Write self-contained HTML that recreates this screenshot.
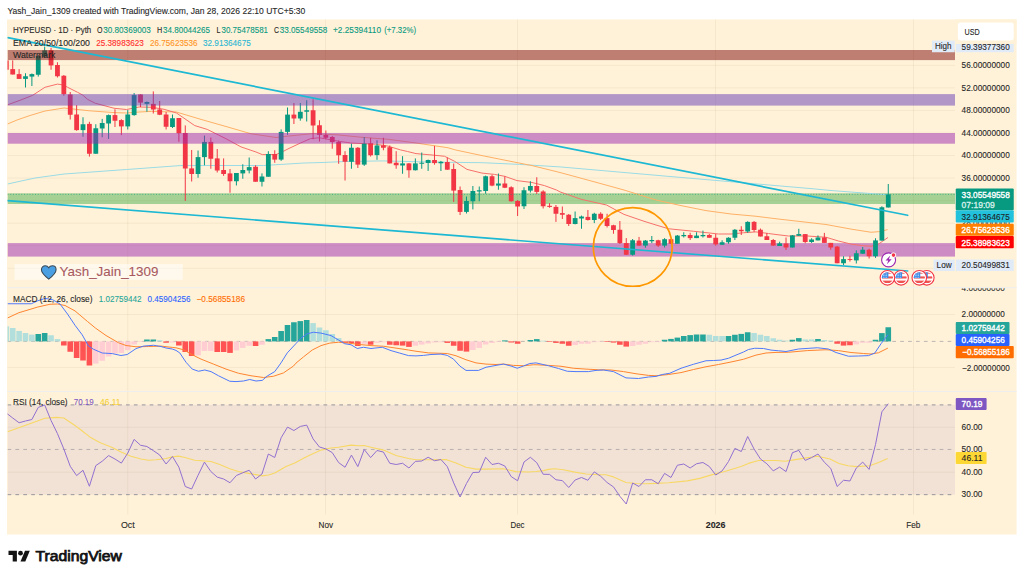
<!DOCTYPE html>
<html><head><meta charset="utf-8"><title>HYPEUSD chart</title>
<style>html,body{margin:0;padding:0;background:#fff;font-family:"Liberation Sans",sans-serif}svg{display:block}</style></head>
<body>
<svg width="1024" height="578" viewBox="0 0 1024 578" font-family="Liberation Sans, sans-serif">
<defs>
<clipPath id="p1"><rect x="7.50" y="19.40" width="947.50" height="268.10"/></clipPath>
<clipPath id="p2"><rect x="7.50" y="288.00" width="947.50" height="103.20"/></clipPath>
<clipPath id="p3"><rect x="7.50" y="391.70" width="947.50" height="122.80"/></clipPath>
<clipPath id="a1"><rect x="955" y="44" width="62" height="243.3"/></clipPath>
<clipPath id="a2"><rect x="955" y="288.3" width="62" height="103"/></clipPath>
<clipPath id="fl"><circle cx="0" cy="0" r="5.6"/></clipPath>
</defs>
<rect width="1024" height="578" fill="#ffffff"/>
<rect x="7.00" y="19.40" width="1009.60" height="515.10" fill="#fff2d8"/>
<line x1="127.75" y1="19.40" x2="127.75" y2="514.50" stroke="rgba(120,95,40,0.07)" stroke-width="1"/>
<line x1="325.50" y1="19.40" x2="325.50" y2="514.50" stroke="rgba(120,95,40,0.07)" stroke-width="1"/>
<line x1="517.50" y1="19.40" x2="517.50" y2="514.50" stroke="rgba(120,95,40,0.07)" stroke-width="1"/>
<line x1="715.50" y1="19.40" x2="715.50" y2="514.50" stroke="rgba(120,95,40,0.07)" stroke-width="1"/>
<line x1="913.50" y1="19.40" x2="913.50" y2="514.50" stroke="rgba(120,95,40,0.07)" stroke-width="1"/>
<line x1="7.50" y1="65.30" x2="955.00" y2="65.30" stroke="rgba(120,95,40,0.07)" stroke-width="1"/>
<line x1="7.50" y1="87.86" x2="955.00" y2="87.86" stroke="rgba(120,95,40,0.07)" stroke-width="1"/>
<line x1="7.50" y1="110.42" x2="955.00" y2="110.42" stroke="rgba(120,95,40,0.07)" stroke-width="1"/>
<line x1="7.50" y1="132.98" x2="955.00" y2="132.98" stroke="rgba(120,95,40,0.07)" stroke-width="1"/>
<line x1="7.50" y1="155.54" x2="955.00" y2="155.54" stroke="rgba(120,95,40,0.07)" stroke-width="1"/>
<line x1="7.50" y1="178.10" x2="955.00" y2="178.10" stroke="rgba(120,95,40,0.07)" stroke-width="1"/>
<line x1="7.50" y1="200.66" x2="955.00" y2="200.66" stroke="rgba(120,95,40,0.07)" stroke-width="1"/>
<line x1="7.50" y1="223.22" x2="955.00" y2="223.22" stroke="rgba(120,95,40,0.07)" stroke-width="1"/>
<line x1="7.50" y1="245.78" x2="955.00" y2="245.78" stroke="rgba(120,95,40,0.07)" stroke-width="1"/>
<line x1="7.50" y1="268.34" x2="955.00" y2="268.34" stroke="rgba(120,95,40,0.07)" stroke-width="1"/>
<line x1="7.50" y1="314.50" x2="955.00" y2="314.50" stroke="rgba(120,95,40,0.07)" stroke-width="1"/>
<line x1="7.50" y1="367.40" x2="955.00" y2="367.40" stroke="rgba(120,95,40,0.07)" stroke-width="1"/>
<line x1="7.50" y1="427.30" x2="955.00" y2="427.30" stroke="rgba(120,95,40,0.07)" stroke-width="1"/>
<line x1="7.50" y1="472.20" x2="955.00" y2="472.20" stroke="rgba(120,95,40,0.07)" stroke-width="1"/>
<g clip-path="url(#p1)">
<rect x="7.50" y="193.30" width="947.50" height="10.70" fill="rgba(76,175,80,0.5)"/>
<rect x="7.50" y="243.10" width="947.50" height="13.50" fill="rgba(156,39,176,0.5)"/>
<polyline points="7.50,184.00 35.00,178.00 64.00,174.00 126.50,169.50 180.00,165.60 220.00,165.50 263.50,165.50 304.00,163.00 320.00,162.60 345.00,161.50 382.50,160.90 420.00,161.80 448.00,162.30 482.00,162.70 519.50,164.40 560.00,166.90 662.00,175.80 812.00,188.70 832.00,190.60 882.00,194.40 888.00,194.80" fill="none" stroke="#9adbe5" stroke-width="1" stroke-linejoin="round"/>
<polyline points="7.50,124.00 17.00,120.00 30.00,115.50 45.00,111.00 64.00,108.00 89.00,110.75 114.00,112.60 126.50,113.00 139.00,112.00 151.50,111.40 164.00,111.75 176.00,111.90 201.00,119.40 226.00,126.50 251.00,133.75 276.00,137.50 288.00,136.10 313.00,133.60 338.00,134.90 363.00,137.40 388.00,139.25 416.00,143.00 448.00,147.75 455.75,150.00 482.00,155.60 507.00,160.60 532.00,165.60 560.00,172.50 592.00,181.20 624.00,190.00 644.00,196.25 656.00,200.00 681.00,205.60 706.00,210.60 731.00,214.00 756.00,216.25 776.00,218.75 801.00,221.60 826.00,224.50 851.00,229.10 871.00,232.25 879.75,231.60 887.60,229.60" fill="none" stroke="#ffb066" stroke-width="1" stroke-linejoin="round"/>
<polyline points="7.75,104.75 20.00,100.30 32.50,95.40 45.00,87.25 57.50,84.10 64.00,85.10 67.50,87.25 77.50,92.25 82.75,95.10 87.50,99.30 95.25,103.25 100.00,104.50 114.00,108.25 126.50,109.50 139.00,107.00 151.50,107.25 164.00,109.25 176.50,113.00 194.75,125.60 207.25,129.40 226.00,138.75 241.00,146.90 256.00,152.00 262.25,154.60 276.00,154.60 283.50,151.25 288.00,148.90 300.50,143.00 310.50,138.60 319.25,137.75 338.00,141.10 350.50,143.00 375.50,144.25 382.50,145.25 388.00,146.10 400.50,149.90 407.50,151.50 416.00,153.60 432.00,155.00 444.50,156.25 454.50,161.25 467.00,169.40 482.00,173.10 494.50,174.40 504.50,176.25 517.00,180.60 532.00,182.50 544.50,185.60 556.50,190.00 560.00,191.90 581.50,199.40 606.50,205.00 624.00,214.40 644.00,221.25 656.00,225.00 668.50,228.75 693.50,231.25 718.50,234.00 731.00,234.00 743.50,232.75 756.00,231.90 768.50,233.50 776.00,234.50 788.50,236.00 807.25,236.00 826.00,237.25 838.50,241.00 851.00,244.10 863.50,245.75 871.00,246.25 878.50,244.10 887.90,237.50" fill="none" stroke="#f7706b" stroke-width="1" stroke-linejoin="round"/>
<line x1="6.32" y1="58.00" x2="6.32" y2="71.00" stroke="#f23645" stroke-width="1"/>
<rect x="3.92" y="60.40" width="4.80" height="9.35" fill="#f23645"/>
<line x1="12.71" y1="60.40" x2="12.71" y2="74.50" stroke="#f23645" stroke-width="1"/>
<rect x="10.31" y="69.10" width="4.80" height="5.40" fill="#f23645"/>
<line x1="19.10" y1="69.10" x2="19.10" y2="78.90" stroke="#f23645" stroke-width="1"/>
<rect x="16.70" y="74.10" width="4.80" height="4.80" fill="#f23645"/>
<line x1="25.49" y1="73.25" x2="25.49" y2="87.50" stroke="#089981" stroke-width="1"/>
<rect x="23.09" y="76.25" width="4.80" height="2.65" fill="#089981"/>
<line x1="31.89" y1="73.50" x2="31.89" y2="86.00" stroke="#089981" stroke-width="1"/>
<rect x="29.49" y="74.10" width="4.80" height="2.50" fill="#089981"/>
<line x1="38.28" y1="55.00" x2="38.28" y2="76.60" stroke="#089981" stroke-width="1"/>
<rect x="35.88" y="56.00" width="4.80" height="18.75" fill="#089981"/>
<line x1="44.67" y1="46.60" x2="44.67" y2="56.60" stroke="#089981" stroke-width="1"/>
<rect x="42.27" y="50.40" width="4.80" height="6.20" fill="#089981"/>
<line x1="51.06" y1="47.90" x2="51.06" y2="69.75" stroke="#f23645" stroke-width="1"/>
<rect x="48.66" y="50.40" width="4.80" height="15.00" fill="#f23645"/>
<line x1="57.45" y1="62.25" x2="57.45" y2="77.50" stroke="#f23645" stroke-width="1"/>
<rect x="55.05" y="65.00" width="4.80" height="11.25" fill="#f23645"/>
<line x1="63.84" y1="75.00" x2="63.84" y2="95.75" stroke="#f23645" stroke-width="1"/>
<rect x="61.44" y="75.75" width="4.80" height="18.45" fill="#f23645"/>
<line x1="70.23" y1="92.00" x2="70.23" y2="119.50" stroke="#f23645" stroke-width="1"/>
<rect x="67.83" y="94.50" width="4.80" height="20.25" fill="#f23645"/>
<line x1="76.62" y1="105.10" x2="76.62" y2="130.75" stroke="#f23645" stroke-width="1"/>
<rect x="74.22" y="114.50" width="4.80" height="15.60" fill="#f23645"/>
<line x1="83.01" y1="117.25" x2="83.01" y2="136.75" stroke="#089981" stroke-width="1"/>
<rect x="80.61" y="124.25" width="4.80" height="5.85" fill="#089981"/>
<line x1="89.40" y1="121.75" x2="89.40" y2="156.60" stroke="#f23645" stroke-width="1"/>
<rect x="87.00" y="123.90" width="4.80" height="29.85" fill="#f23645"/>
<line x1="95.80" y1="124.25" x2="95.80" y2="153.75" stroke="#089981" stroke-width="1"/>
<rect x="93.39" y="128.25" width="4.80" height="25.50" fill="#089981"/>
<line x1="102.19" y1="118.90" x2="102.19" y2="137.25" stroke="#089981" stroke-width="1"/>
<rect x="99.79" y="123.00" width="4.80" height="5.50" fill="#089981"/>
<line x1="108.58" y1="114.50" x2="108.58" y2="138.90" stroke="#089981" stroke-width="1"/>
<rect x="106.18" y="115.10" width="4.80" height="8.40" fill="#089981"/>
<line x1="114.97" y1="109.25" x2="114.97" y2="127.00" stroke="#f23645" stroke-width="1"/>
<rect x="112.57" y="115.10" width="4.80" height="5.65" fill="#f23645"/>
<line x1="121.36" y1="119.25" x2="121.36" y2="135.10" stroke="#f23645" stroke-width="1"/>
<rect x="118.96" y="120.10" width="4.80" height="6.30" fill="#f23645"/>
<line x1="127.75" y1="110.10" x2="127.75" y2="129.50" stroke="#089981" stroke-width="1"/>
<rect x="125.35" y="114.50" width="4.80" height="11.90" fill="#089981"/>
<line x1="134.14" y1="93.00" x2="134.14" y2="115.75" stroke="#089981" stroke-width="1"/>
<rect x="131.74" y="95.10" width="4.80" height="20.00" fill="#089981"/>
<line x1="140.53" y1="94.25" x2="140.53" y2="107.00" stroke="#f23645" stroke-width="1"/>
<rect x="138.13" y="94.50" width="4.80" height="8.10" fill="#f23645"/>
<line x1="146.92" y1="101.40" x2="146.92" y2="111.75" stroke="#089981" stroke-width="1"/>
<rect x="144.52" y="102.00" width="4.80" height="1.90" fill="#089981"/>
<line x1="153.31" y1="91.40" x2="153.31" y2="113.50" stroke="#f23645" stroke-width="1"/>
<rect x="150.91" y="103.90" width="4.80" height="5.60" fill="#f23645"/>
<line x1="159.70" y1="101.00" x2="159.70" y2="115.10" stroke="#f23645" stroke-width="1"/>
<rect x="157.30" y="109.50" width="4.80" height="5.25" fill="#f23645"/>
<line x1="166.10" y1="112.00" x2="166.10" y2="129.50" stroke="#f23645" stroke-width="1"/>
<rect x="163.70" y="114.50" width="4.80" height="12.25" fill="#f23645"/>
<line x1="172.49" y1="114.50" x2="172.49" y2="128.00" stroke="#089981" stroke-width="1"/>
<rect x="170.09" y="118.25" width="4.80" height="8.75" fill="#089981"/>
<line x1="178.88" y1="118.00" x2="178.88" y2="141.75" stroke="#f23645" stroke-width="1"/>
<rect x="176.48" y="118.00" width="4.80" height="15.25" fill="#f23645"/>
<line x1="185.27" y1="125.40" x2="185.27" y2="200.90" stroke="#f23645" stroke-width="1"/>
<rect x="182.87" y="133.00" width="4.80" height="35.50" fill="#f23645"/>
<line x1="191.66" y1="150.00" x2="191.66" y2="181.50" stroke="#f23645" stroke-width="1"/>
<rect x="189.26" y="168.40" width="4.80" height="5.60" fill="#f23645"/>
<line x1="198.05" y1="150.50" x2="198.05" y2="177.75" stroke="#089981" stroke-width="1"/>
<rect x="195.65" y="157.10" width="4.80" height="16.90" fill="#089981"/>
<line x1="204.44" y1="135.60" x2="204.44" y2="165.25" stroke="#089981" stroke-width="1"/>
<rect x="202.04" y="141.90" width="4.80" height="15.20" fill="#089981"/>
<line x1="210.83" y1="137.50" x2="210.83" y2="168.75" stroke="#f23645" stroke-width="1"/>
<rect x="208.43" y="141.90" width="4.80" height="16.85" fill="#f23645"/>
<line x1="217.22" y1="149.00" x2="217.22" y2="172.50" stroke="#f23645" stroke-width="1"/>
<rect x="214.82" y="158.40" width="4.80" height="12.10" fill="#f23645"/>
<line x1="223.62" y1="158.40" x2="223.62" y2="175.90" stroke="#f23645" stroke-width="1"/>
<rect x="221.22" y="170.00" width="4.80" height="4.00" fill="#f23645"/>
<line x1="230.01" y1="169.00" x2="230.01" y2="192.75" stroke="#f23645" stroke-width="1"/>
<rect x="227.61" y="173.40" width="4.80" height="7.85" fill="#f23645"/>
<line x1="236.40" y1="173.00" x2="236.40" y2="185.50" stroke="#089981" stroke-width="1"/>
<rect x="234.00" y="173.00" width="4.80" height="8.25" fill="#089981"/>
<line x1="242.79" y1="164.25" x2="242.79" y2="178.75" stroke="#089981" stroke-width="1"/>
<rect x="240.39" y="170.00" width="4.80" height="3.40" fill="#089981"/>
<line x1="249.18" y1="157.50" x2="249.18" y2="173.40" stroke="#089981" stroke-width="1"/>
<rect x="246.78" y="167.10" width="4.80" height="3.40" fill="#089981"/>
<line x1="255.57" y1="165.25" x2="255.57" y2="181.75" stroke="#f23645" stroke-width="1"/>
<rect x="253.17" y="166.75" width="4.80" height="15.00" fill="#f23645"/>
<line x1="261.96" y1="173.40" x2="261.96" y2="186.50" stroke="#089981" stroke-width="1"/>
<rect x="259.56" y="176.50" width="4.80" height="5.25" fill="#089981"/>
<line x1="268.35" y1="151.25" x2="268.35" y2="176.75" stroke="#089981" stroke-width="1"/>
<rect x="265.95" y="154.00" width="4.80" height="22.75" fill="#089981"/>
<line x1="274.74" y1="150.25" x2="274.74" y2="162.75" stroke="#f23645" stroke-width="1"/>
<rect x="272.34" y="154.00" width="4.80" height="5.60" fill="#f23645"/>
<line x1="281.13" y1="129.40" x2="281.13" y2="160.90" stroke="#089981" stroke-width="1"/>
<rect x="278.73" y="131.90" width="4.80" height="27.70" fill="#089981"/>
<line x1="287.52" y1="107.50" x2="287.52" y2="134.75" stroke="#089981" stroke-width="1"/>
<rect x="285.12" y="114.60" width="4.80" height="17.30" fill="#089981"/>
<line x1="293.92" y1="103.00" x2="293.92" y2="124.00" stroke="#f23645" stroke-width="1"/>
<rect x="291.52" y="114.60" width="4.80" height="3.90" fill="#f23645"/>
<line x1="300.31" y1="103.00" x2="300.31" y2="120.70" stroke="#089981" stroke-width="1"/>
<rect x="297.91" y="111.80" width="4.80" height="6.70" fill="#089981"/>
<line x1="306.70" y1="100.25" x2="306.70" y2="121.50" stroke="#089981" stroke-width="1"/>
<rect x="304.30" y="110.25" width="4.80" height="1.50" fill="#089981"/>
<line x1="313.09" y1="99.25" x2="313.09" y2="139.25" stroke="#f23645" stroke-width="1"/>
<rect x="310.69" y="110.25" width="4.80" height="15.25" fill="#f23645"/>
<line x1="319.48" y1="120.25" x2="319.48" y2="141.50" stroke="#f23645" stroke-width="1"/>
<rect x="317.08" y="125.25" width="4.80" height="9.65" fill="#f23645"/>
<line x1="325.87" y1="130.50" x2="325.87" y2="139.25" stroke="#f23645" stroke-width="1"/>
<rect x="323.47" y="134.90" width="4.80" height="2.85" fill="#f23645"/>
<line x1="332.26" y1="136.00" x2="332.26" y2="148.70" stroke="#f23645" stroke-width="1"/>
<rect x="329.86" y="137.00" width="4.80" height="5.00" fill="#f23645"/>
<line x1="338.65" y1="140.50" x2="338.65" y2="163.75" stroke="#f23645" stroke-width="1"/>
<rect x="336.25" y="142.00" width="4.80" height="13.25" fill="#f23645"/>
<line x1="345.04" y1="151.20" x2="345.04" y2="180.50" stroke="#f23645" stroke-width="1"/>
<rect x="342.64" y="155.00" width="4.80" height="6.75" fill="#f23645"/>
<line x1="351.44" y1="143.60" x2="351.44" y2="168.75" stroke="#089981" stroke-width="1"/>
<rect x="349.04" y="147.75" width="4.80" height="14.00" fill="#089981"/>
<line x1="357.83" y1="147.00" x2="357.83" y2="168.00" stroke="#f23645" stroke-width="1"/>
<rect x="355.43" y="147.75" width="4.80" height="16.85" fill="#f23645"/>
<line x1="364.22" y1="137.00" x2="364.22" y2="165.90" stroke="#089981" stroke-width="1"/>
<rect x="361.82" y="143.60" width="4.80" height="21.00" fill="#089981"/>
<line x1="370.61" y1="137.75" x2="370.61" y2="156.50" stroke="#f23645" stroke-width="1"/>
<rect x="368.21" y="143.25" width="4.80" height="12.00" fill="#f23645"/>
<line x1="377.00" y1="140.25" x2="377.00" y2="159.80" stroke="#089981" stroke-width="1"/>
<rect x="374.60" y="145.50" width="4.80" height="9.60" fill="#089981"/>
<line x1="383.39" y1="137.75" x2="383.39" y2="150.25" stroke="#f23645" stroke-width="1"/>
<rect x="380.99" y="145.40" width="4.80" height="2.35" fill="#f23645"/>
<line x1="389.78" y1="145.40" x2="389.78" y2="163.40" stroke="#f23645" stroke-width="1"/>
<rect x="387.38" y="147.20" width="4.80" height="16.20" fill="#f23645"/>
<line x1="396.17" y1="151.20" x2="396.17" y2="168.75" stroke="#f23645" stroke-width="1"/>
<rect x="393.77" y="162.75" width="4.80" height="2.50" fill="#f23645"/>
<line x1="402.56" y1="156.20" x2="402.56" y2="173.75" stroke="#089981" stroke-width="1"/>
<rect x="400.16" y="163.40" width="4.80" height="2.10" fill="#089981"/>
<line x1="408.95" y1="163.00" x2="408.95" y2="177.75" stroke="#f23645" stroke-width="1"/>
<rect x="406.55" y="163.40" width="4.80" height="6.85" fill="#f23645"/>
<line x1="415.35" y1="158.40" x2="415.35" y2="170.50" stroke="#089981" stroke-width="1"/>
<rect x="412.95" y="163.40" width="4.80" height="6.85" fill="#089981"/>
<line x1="421.74" y1="152.50" x2="421.74" y2="168.75" stroke="#089981" stroke-width="1"/>
<rect x="419.34" y="162.75" width="4.80" height="1.00" fill="#089981"/>
<line x1="428.13" y1="159.60" x2="428.13" y2="170.90" stroke="#089981" stroke-width="1"/>
<rect x="425.73" y="160.00" width="4.80" height="3.00" fill="#089981"/>
<line x1="434.52" y1="145.90" x2="434.52" y2="164.70" stroke="#f23645" stroke-width="1"/>
<rect x="432.12" y="160.00" width="4.80" height="3.10" fill="#f23645"/>
<line x1="440.91" y1="160.90" x2="440.91" y2="171.00" stroke="#089981" stroke-width="1"/>
<rect x="438.51" y="161.80" width="4.80" height="1.50" fill="#089981"/>
<line x1="447.30" y1="157.50" x2="447.30" y2="170.00" stroke="#f23645" stroke-width="1"/>
<rect x="444.90" y="162.00" width="4.80" height="7.70" fill="#f23645"/>
<line x1="453.69" y1="163.50" x2="453.69" y2="201.90" stroke="#f23645" stroke-width="1"/>
<rect x="451.29" y="169.00" width="4.80" height="21.60" fill="#f23645"/>
<line x1="460.08" y1="186.50" x2="460.08" y2="215.00" stroke="#f23645" stroke-width="1"/>
<rect x="457.68" y="190.00" width="4.80" height="21.90" fill="#f23645"/>
<line x1="466.47" y1="196.50" x2="466.47" y2="213.50" stroke="#089981" stroke-width="1"/>
<rect x="464.07" y="201.00" width="4.80" height="10.90" fill="#089981"/>
<line x1="472.86" y1="186.00" x2="472.86" y2="209.40" stroke="#089981" stroke-width="1"/>
<rect x="470.46" y="191.00" width="4.80" height="10.25" fill="#089981"/>
<line x1="479.25" y1="186.50" x2="479.25" y2="201.25" stroke="#089981" stroke-width="1"/>
<rect x="476.86" y="190.25" width="4.80" height="1.25" fill="#089981"/>
<line x1="485.65" y1="175.60" x2="485.65" y2="193.75" stroke="#089981" stroke-width="1"/>
<rect x="483.25" y="176.25" width="4.80" height="14.75" fill="#089981"/>
<line x1="492.04" y1="174.75" x2="492.04" y2="186.25" stroke="#f23645" stroke-width="1"/>
<rect x="489.64" y="176.25" width="4.80" height="9.35" fill="#f23645"/>
<line x1="498.43" y1="173.50" x2="498.43" y2="189.75" stroke="#089981" stroke-width="1"/>
<rect x="496.03" y="183.50" width="4.80" height="2.10" fill="#089981"/>
<line x1="504.82" y1="176.25" x2="504.82" y2="188.10" stroke="#f23645" stroke-width="1"/>
<rect x="502.42" y="183.50" width="4.80" height="4.25" fill="#f23645"/>
<line x1="511.21" y1="186.25" x2="511.21" y2="201.60" stroke="#f23645" stroke-width="1"/>
<rect x="508.81" y="187.25" width="4.80" height="14.00" fill="#f23645"/>
<line x1="517.60" y1="200.00" x2="517.60" y2="216.00" stroke="#f23645" stroke-width="1"/>
<rect x="515.20" y="201.00" width="4.80" height="5.50" fill="#f23645"/>
<line x1="523.99" y1="187.25" x2="523.99" y2="209.00" stroke="#089981" stroke-width="1"/>
<rect x="521.59" y="190.25" width="4.80" height="16.00" fill="#089981"/>
<line x1="530.38" y1="181.25" x2="530.38" y2="192.50" stroke="#089981" stroke-width="1"/>
<rect x="527.98" y="186.00" width="4.80" height="4.60" fill="#089981"/>
<line x1="536.77" y1="177.25" x2="536.77" y2="194.00" stroke="#f23645" stroke-width="1"/>
<rect x="534.37" y="186.00" width="4.80" height="5.90" fill="#f23645"/>
<line x1="543.16" y1="190.25" x2="543.16" y2="208.50" stroke="#f23645" stroke-width="1"/>
<rect x="540.76" y="191.50" width="4.80" height="14.75" fill="#f23645"/>
<line x1="549.56" y1="203.10" x2="549.56" y2="207.75" stroke="#f23645" stroke-width="1"/>
<rect x="547.16" y="205.80" width="4.80" height="1.10" fill="#f23645"/>
<line x1="555.95" y1="205.00" x2="555.95" y2="221.90" stroke="#f23645" stroke-width="1"/>
<rect x="553.55" y="206.90" width="4.80" height="6.85" fill="#f23645"/>
<line x1="562.34" y1="206.50" x2="562.34" y2="219.00" stroke="#f23645" stroke-width="1"/>
<rect x="559.94" y="213.10" width="4.80" height="1.65" fill="#f23645"/>
<line x1="568.73" y1="214.00" x2="568.73" y2="226.00" stroke="#f23645" stroke-width="1"/>
<rect x="566.33" y="214.75" width="4.80" height="9.25" fill="#f23645"/>
<line x1="575.12" y1="211.50" x2="575.12" y2="224.40" stroke="#089981" stroke-width="1"/>
<rect x="572.72" y="218.10" width="4.80" height="5.90" fill="#089981"/>
<line x1="581.51" y1="215.60" x2="581.51" y2="228.75" stroke="#089981" stroke-width="1"/>
<rect x="579.11" y="216.50" width="4.80" height="2.00" fill="#089981"/>
<line x1="587.90" y1="210.00" x2="587.90" y2="220.60" stroke="#f23645" stroke-width="1"/>
<rect x="585.50" y="216.90" width="4.80" height="3.10" fill="#f23645"/>
<line x1="594.29" y1="212.75" x2="594.29" y2="223.10" stroke="#089981" stroke-width="1"/>
<rect x="591.89" y="213.75" width="4.80" height="6.25" fill="#089981"/>
<line x1="600.68" y1="212.25" x2="600.68" y2="220.00" stroke="#f23645" stroke-width="1"/>
<rect x="598.28" y="213.75" width="4.80" height="5.00" fill="#f23645"/>
<line x1="607.08" y1="213.75" x2="607.08" y2="227.50" stroke="#f23645" stroke-width="1"/>
<rect x="604.68" y="218.10" width="4.80" height="7.90" fill="#f23645"/>
<line x1="613.47" y1="224.75" x2="613.47" y2="233.75" stroke="#f23645" stroke-width="1"/>
<rect x="611.07" y="225.25" width="4.80" height="4.75" fill="#f23645"/>
<line x1="619.86" y1="221.00" x2="619.86" y2="244.00" stroke="#f23645" stroke-width="1"/>
<rect x="617.46" y="229.75" width="4.80" height="13.35" fill="#f23645"/>
<line x1="626.25" y1="238.10" x2="626.25" y2="255.00" stroke="#f23645" stroke-width="1"/>
<rect x="623.85" y="243.10" width="4.80" height="11.65" fill="#f23645"/>
<line x1="632.64" y1="239.00" x2="632.64" y2="255.60" stroke="#089981" stroke-width="1"/>
<rect x="630.24" y="240.25" width="4.80" height="14.50" fill="#089981"/>
<line x1="639.03" y1="236.90" x2="639.03" y2="246.00" stroke="#f23645" stroke-width="1"/>
<rect x="636.63" y="240.60" width="4.80" height="5.00" fill="#f23645"/>
<line x1="645.42" y1="240.00" x2="645.42" y2="247.75" stroke="#089981" stroke-width="1"/>
<rect x="643.02" y="240.60" width="4.80" height="5.00" fill="#089981"/>
<line x1="651.81" y1="236.00" x2="651.81" y2="243.10" stroke="#089981" stroke-width="1"/>
<rect x="649.41" y="240.00" width="4.80" height="1.25" fill="#089981"/>
<line x1="658.20" y1="239.75" x2="658.20" y2="246.90" stroke="#f23645" stroke-width="1"/>
<rect x="655.80" y="240.25" width="4.80" height="5.35" fill="#f23645"/>
<line x1="664.59" y1="238.10" x2="664.59" y2="247.50" stroke="#089981" stroke-width="1"/>
<rect x="662.19" y="239.20" width="4.80" height="6.40" fill="#089981"/>
<line x1="670.99" y1="238.50" x2="670.99" y2="244.00" stroke="#f23645" stroke-width="1"/>
<rect x="668.59" y="239.20" width="4.80" height="4.55" fill="#f23645"/>
<line x1="677.38" y1="235.00" x2="677.38" y2="243.75" stroke="#089981" stroke-width="1"/>
<rect x="674.98" y="235.60" width="4.80" height="8.15" fill="#089981"/>
<line x1="683.77" y1="232.25" x2="683.77" y2="237.50" stroke="#089981" stroke-width="1"/>
<rect x="681.37" y="235.00" width="4.80" height="1.25" fill="#089981"/>
<line x1="690.16" y1="232.75" x2="690.16" y2="240.00" stroke="#f23645" stroke-width="1"/>
<rect x="687.76" y="235.00" width="4.80" height="3.10" fill="#f23645"/>
<line x1="696.55" y1="232.25" x2="696.55" y2="238.10" stroke="#089981" stroke-width="1"/>
<rect x="694.15" y="235.60" width="4.80" height="2.50" fill="#089981"/>
<line x1="702.94" y1="230.60" x2="702.94" y2="237.50" stroke="#089981" stroke-width="1"/>
<rect x="700.54" y="235.00" width="4.80" height="1.25" fill="#089981"/>
<line x1="709.33" y1="234.00" x2="709.33" y2="237.75" stroke="#f23645" stroke-width="1"/>
<rect x="706.93" y="235.00" width="4.80" height="2.75" fill="#f23645"/>
<line x1="715.72" y1="234.00" x2="715.72" y2="245.60" stroke="#f23645" stroke-width="1"/>
<rect x="713.32" y="237.75" width="4.80" height="6.65" fill="#f23645"/>
<line x1="722.11" y1="240.25" x2="722.11" y2="244.75" stroke="#089981" stroke-width="1"/>
<rect x="719.71" y="242.25" width="4.80" height="2.50" fill="#089981"/>
<line x1="728.50" y1="237.25" x2="728.50" y2="243.75" stroke="#089981" stroke-width="1"/>
<rect x="726.10" y="237.75" width="4.80" height="4.50" fill="#089981"/>
<line x1="734.89" y1="229.00" x2="734.89" y2="240.00" stroke="#089981" stroke-width="1"/>
<rect x="732.50" y="229.75" width="4.80" height="8.00" fill="#089981"/>
<line x1="741.29" y1="226.25" x2="741.29" y2="235.00" stroke="#f23645" stroke-width="1"/>
<rect x="738.89" y="229.75" width="4.80" height="1.50" fill="#f23645"/>
<line x1="747.68" y1="221.25" x2="747.68" y2="232.75" stroke="#089981" stroke-width="1"/>
<rect x="745.28" y="221.90" width="4.80" height="9.60" fill="#089981"/>
<line x1="754.07" y1="221.00" x2="754.07" y2="231.90" stroke="#f23645" stroke-width="1"/>
<rect x="751.67" y="221.90" width="4.80" height="8.10" fill="#f23645"/>
<line x1="760.46" y1="228.50" x2="760.46" y2="236.50" stroke="#f23645" stroke-width="1"/>
<rect x="758.06" y="229.75" width="4.80" height="6.75" fill="#f23645"/>
<line x1="766.85" y1="233.10" x2="766.85" y2="240.00" stroke="#f23645" stroke-width="1"/>
<rect x="764.45" y="236.25" width="4.80" height="3.75" fill="#f23645"/>
<line x1="773.24" y1="239.00" x2="773.24" y2="245.60" stroke="#f23645" stroke-width="1"/>
<rect x="770.84" y="240.00" width="4.80" height="5.60" fill="#f23645"/>
<line x1="779.63" y1="241.70" x2="779.63" y2="246.00" stroke="#089981" stroke-width="1"/>
<rect x="777.23" y="243.40" width="4.80" height="2.60" fill="#089981"/>
<line x1="786.02" y1="237.50" x2="786.02" y2="250.00" stroke="#f23645" stroke-width="1"/>
<rect x="783.62" y="243.50" width="4.80" height="4.00" fill="#f23645"/>
<line x1="792.41" y1="235.00" x2="792.41" y2="247.50" stroke="#089981" stroke-width="1"/>
<rect x="790.01" y="235.40" width="4.80" height="12.10" fill="#089981"/>
<line x1="798.80" y1="228.75" x2="798.80" y2="235.75" stroke="#089981" stroke-width="1"/>
<rect x="796.40" y="234.10" width="4.80" height="1.65" fill="#089981"/>
<line x1="805.20" y1="234.10" x2="805.20" y2="243.25" stroke="#f23645" stroke-width="1"/>
<rect x="802.80" y="234.10" width="4.80" height="7.90" fill="#f23645"/>
<line x1="811.59" y1="238.25" x2="811.59" y2="242.90" stroke="#089981" stroke-width="1"/>
<rect x="809.19" y="239.50" width="4.80" height="2.50" fill="#089981"/>
<line x1="817.98" y1="235.40" x2="817.98" y2="240.40" stroke="#089981" stroke-width="1"/>
<rect x="815.58" y="237.50" width="4.80" height="2.90" fill="#089981"/>
<line x1="824.37" y1="232.90" x2="824.37" y2="242.90" stroke="#f23645" stroke-width="1"/>
<rect x="821.97" y="237.50" width="4.80" height="5.40" fill="#f23645"/>
<line x1="830.76" y1="242.90" x2="830.76" y2="249.75" stroke="#f23645" stroke-width="1"/>
<rect x="828.36" y="242.90" width="4.80" height="4.60" fill="#f23645"/>
<line x1="837.15" y1="246.00" x2="837.15" y2="263.25" stroke="#f23645" stroke-width="1"/>
<rect x="834.75" y="246.60" width="4.80" height="16.65" fill="#f23645"/>
<line x1="843.54" y1="256.25" x2="843.54" y2="265.00" stroke="#089981" stroke-width="1"/>
<rect x="841.14" y="259.10" width="4.80" height="4.15" fill="#089981"/>
<line x1="849.93" y1="255.75" x2="849.93" y2="261.60" stroke="#f23645" stroke-width="1"/>
<rect x="847.53" y="259.10" width="4.80" height="0.90" fill="#f23645"/>
<line x1="856.32" y1="250.40" x2="856.32" y2="263.50" stroke="#089981" stroke-width="1"/>
<rect x="853.92" y="253.25" width="4.80" height="7.15" fill="#089981"/>
<line x1="862.72" y1="247.00" x2="862.72" y2="253.75" stroke="#089981" stroke-width="1"/>
<rect x="860.32" y="249.75" width="4.80" height="4.00" fill="#089981"/>
<line x1="869.11" y1="248.75" x2="869.11" y2="258.50" stroke="#f23645" stroke-width="1"/>
<rect x="866.71" y="249.75" width="4.80" height="6.50" fill="#f23645"/>
<line x1="875.50" y1="238.25" x2="875.50" y2="257.90" stroke="#089981" stroke-width="1"/>
<rect x="873.10" y="240.40" width="4.80" height="15.85" fill="#089981"/>
<line x1="881.89" y1="206.25" x2="881.89" y2="240.60" stroke="#089981" stroke-width="1"/>
<rect x="879.49" y="207.25" width="4.80" height="33.35" fill="#089981"/>
<line x1="888.28" y1="184.00" x2="888.28" y2="207.50" stroke="#089981" stroke-width="1"/>
<rect x="885.88" y="194.40" width="4.80" height="13.10" fill="#089981"/>
<rect x="7.50" y="50.00" width="947.50" height="10.10" fill="rgba(125,10,10,0.5)"/>
<rect x="7.50" y="94.10" width="947.50" height="11.50" fill="rgba(103,58,183,0.5)"/>
<rect x="7.50" y="133.00" width="947.50" height="10.70" fill="rgba(156,39,176,0.5)"/>
<line x1="7.50" y1="194.4" x2="955.00" y2="194.4" stroke="#089981" stroke-width="1" stroke-opacity="0.55" stroke-dasharray="1 1.75"/>
<line x1="7.75" y1="37.7" x2="907.6" y2="215.25" stroke="#1db8d3" stroke-width="1.75" stroke-linecap="round"/>
<line x1="7.5" y1="200.6" x2="907.7" y2="271.0" stroke="#1db8d3" stroke-width="1.6" stroke-linecap="round"/>
<circle cx="632.75" cy="247" r="39.4" fill="none" stroke="#ff9800" stroke-width="1.7"/>
<rect x="14.6" y="264.1" width="168.2" height="15.6" fill="rgba(255,255,255,0.55)"/>
<path transform="translate(40.9,265.2) scale(0.655)" d="M12 21.2 C5 15.5 0.8 11.5 0.8 6.8 C0.8 3.2 3.5 0.8 6.6 0.8 C8.9 0.8 10.9 2 12 3.9 C13.1 2 15.1 0.8 17.4 0.8 C20.5 0.8 23.2 3.2 23.2 6.8 C23.2 11.5 19 15.5 12 21.2 Z" fill="#4a9fe3" stroke="#3b4a57" stroke-width="1.6"/>
<text x="59.60" y="276.20" font-size="13.20" fill="#a8595f" textLength="98.80" lengthAdjust="spacingAndGlyphs"  stroke="#a8595f" stroke-width="0.10">Yash_Jain_1309</text>
<circle cx="888.6" cy="259.9" r="7" fill="#ffffff" stroke="#9c27b0" stroke-width="1.1"/>
<path d="M890.3 255.6 L885.5 260.6 L888.3 260.6 L886.9 264.3 L891.7 259.2 L888.9 259.2 Z" fill="#9c27b0"/>
<circle cx="893.5" cy="255.1" r="2.7" fill="#ffffff"/><circle cx="893.5" cy="255.1" r="1.8" fill="#f23645"/>
<g transform="translate(926.80,277.80)">
<circle r="7.3" fill="#ffffff" stroke="#f23645" stroke-width="1.1"/>
<g clip-path="url(#fl)"><rect x="-6" y="-6" width="12" height="12" fill="#ffffff"/>
<rect x="-6" y="-5.60" width="12" height="1.50" fill="#ef5350"/>
<rect x="-6" y="-1.40" width="12" height="2.10" fill="#ef5350"/>
<rect x="-6" y="2.80" width="12" height="2.40" fill="#ef5350"/>
<rect x="-6" y="-6" width="7" height="6.3" fill="#3f8ee8"/>
<rect x="-4.40" y="-4.20" width="0.8" height="0.8" fill="#cfe3fb"/>
<rect x="-2.80" y="-4.20" width="0.8" height="0.8" fill="#cfe3fb"/>
<rect x="-1.20" y="-4.20" width="0.8" height="0.8" fill="#cfe3fb"/>
<rect x="-4.40" y="-2.60" width="0.8" height="0.8" fill="#cfe3fb"/>
<rect x="-2.80" y="-2.60" width="0.8" height="0.8" fill="#cfe3fb"/>
<rect x="-1.20" y="-2.60" width="0.8" height="0.8" fill="#cfe3fb"/>
<rect x="-4.40" y="-1.00" width="0.8" height="0.8" fill="#cfe3fb"/>
<rect x="-2.80" y="-1.00" width="0.8" height="0.8" fill="#cfe3fb"/>
<rect x="-1.20" y="-1.00" width="0.8" height="0.8" fill="#cfe3fb"/>
</g></g>
<g transform="translate(919.30,277.80)">
<circle r="7.3" fill="#ffffff" stroke="#f23645" stroke-width="1.1"/>
<g clip-path="url(#fl)"><rect x="-6" y="-6" width="12" height="12" fill="#ffffff"/>
<rect x="-6" y="-5.60" width="12" height="1.50" fill="#ef5350"/>
<rect x="-6" y="-1.40" width="12" height="2.10" fill="#ef5350"/>
<rect x="-6" y="2.80" width="12" height="2.40" fill="#ef5350"/>
<rect x="-6" y="-6" width="7" height="6.3" fill="#3f8ee8"/>
<rect x="-4.40" y="-4.20" width="0.8" height="0.8" fill="#cfe3fb"/>
<rect x="-2.80" y="-4.20" width="0.8" height="0.8" fill="#cfe3fb"/>
<rect x="-1.20" y="-4.20" width="0.8" height="0.8" fill="#cfe3fb"/>
<rect x="-4.40" y="-2.60" width="0.8" height="0.8" fill="#cfe3fb"/>
<rect x="-2.80" y="-2.60" width="0.8" height="0.8" fill="#cfe3fb"/>
<rect x="-1.20" y="-2.60" width="0.8" height="0.8" fill="#cfe3fb"/>
<rect x="-4.40" y="-1.00" width="0.8" height="0.8" fill="#cfe3fb"/>
<rect x="-2.80" y="-1.00" width="0.8" height="0.8" fill="#cfe3fb"/>
<rect x="-1.20" y="-1.00" width="0.8" height="0.8" fill="#cfe3fb"/>
</g></g>
<g transform="translate(901.10,277.80)">
<circle r="7.3" fill="#ffffff" stroke="#f23645" stroke-width="1.1"/>
<g clip-path="url(#fl)"><rect x="-6" y="-6" width="12" height="12" fill="#ffffff"/>
<rect x="-6" y="-5.60" width="12" height="1.50" fill="#ef5350"/>
<rect x="-6" y="-1.40" width="12" height="2.10" fill="#ef5350"/>
<rect x="-6" y="2.80" width="12" height="2.40" fill="#ef5350"/>
<rect x="-6" y="-6" width="7" height="6.3" fill="#3f8ee8"/>
<rect x="-4.40" y="-4.20" width="0.8" height="0.8" fill="#cfe3fb"/>
<rect x="-2.80" y="-4.20" width="0.8" height="0.8" fill="#cfe3fb"/>
<rect x="-1.20" y="-4.20" width="0.8" height="0.8" fill="#cfe3fb"/>
<rect x="-4.40" y="-2.60" width="0.8" height="0.8" fill="#cfe3fb"/>
<rect x="-2.80" y="-2.60" width="0.8" height="0.8" fill="#cfe3fb"/>
<rect x="-1.20" y="-2.60" width="0.8" height="0.8" fill="#cfe3fb"/>
<rect x="-4.40" y="-1.00" width="0.8" height="0.8" fill="#cfe3fb"/>
<rect x="-2.80" y="-1.00" width="0.8" height="0.8" fill="#cfe3fb"/>
<rect x="-1.20" y="-1.00" width="0.8" height="0.8" fill="#cfe3fb"/>
</g></g>
<g transform="translate(887.40,277.80)">
<circle r="7.3" fill="#ffffff" stroke="#f23645" stroke-width="1.1"/>
<g clip-path="url(#fl)"><rect x="-6" y="-6" width="12" height="12" fill="#ffffff"/>
<rect x="-6" y="-5.60" width="12" height="1.50" fill="#ef5350"/>
<rect x="-6" y="-1.40" width="12" height="2.10" fill="#ef5350"/>
<rect x="-6" y="2.80" width="12" height="2.40" fill="#ef5350"/>
<rect x="-6" y="-6" width="7" height="6.3" fill="#3f8ee8"/>
<rect x="-4.40" y="-4.20" width="0.8" height="0.8" fill="#cfe3fb"/>
<rect x="-2.80" y="-4.20" width="0.8" height="0.8" fill="#cfe3fb"/>
<rect x="-1.20" y="-4.20" width="0.8" height="0.8" fill="#cfe3fb"/>
<rect x="-4.40" y="-2.60" width="0.8" height="0.8" fill="#cfe3fb"/>
<rect x="-2.80" y="-2.60" width="0.8" height="0.8" fill="#cfe3fb"/>
<rect x="-1.20" y="-2.60" width="0.8" height="0.8" fill="#cfe3fb"/>
<rect x="-4.40" y="-1.00" width="0.8" height="0.8" fill="#cfe3fb"/>
<rect x="-2.80" y="-1.00" width="0.8" height="0.8" fill="#cfe3fb"/>
<rect x="-1.20" y="-1.00" width="0.8" height="0.8" fill="#cfe3fb"/>
</g></g>
</g>
<g clip-path="url(#p2)">
<line x1="7.50" y1="341.40" x2="955.00" y2="341.40" stroke="#8d8d96" stroke-opacity="0.6" stroke-width="1" stroke-dasharray="3.7 4.2"/>
<rect x="3.52" y="326.25" width="5.60" height="15.15" fill="#b2dfdb"/>
<rect x="9.91" y="328.00" width="5.60" height="13.40" fill="#b2dfdb"/>
<rect x="16.30" y="330.90" width="5.60" height="10.50" fill="#b2dfdb"/>
<rect x="22.69" y="333.00" width="5.60" height="8.40" fill="#b2dfdb"/>
<rect x="29.09" y="334.60" width="5.60" height="6.80" fill="#b2dfdb"/>
<rect x="35.48" y="334.00" width="5.60" height="7.40" fill="#26a69a"/>
<rect x="41.87" y="333.00" width="5.60" height="8.40" fill="#26a69a"/>
<rect x="48.26" y="335.25" width="5.60" height="6.15" fill="#b2dfdb"/>
<rect x="54.65" y="339.10" width="5.60" height="2.30" fill="#b2dfdb"/>
<rect x="61.04" y="341.40" width="5.60" height="4.10" fill="#ff5252"/>
<rect x="67.43" y="341.40" width="5.60" height="10.35" fill="#ff5252"/>
<rect x="73.82" y="341.40" width="5.60" height="16.60" fill="#ff5252"/>
<rect x="80.21" y="341.40" width="5.60" height="19.10" fill="#ff5252"/>
<rect x="86.60" y="341.40" width="5.60" height="24.10" fill="#ff5252"/>
<rect x="93.00" y="341.40" width="5.60" height="22.20" fill="#ffcdd2"/>
<rect x="99.39" y="341.40" width="5.60" height="19.35" fill="#ffcdd2"/>
<rect x="105.78" y="341.40" width="5.60" height="15.10" fill="#ffcdd2"/>
<rect x="112.17" y="341.40" width="5.60" height="12.20" fill="#ffcdd2"/>
<rect x="118.56" y="341.40" width="5.60" height="11.60" fill="#ffcdd2"/>
<rect x="124.95" y="341.40" width="5.60" height="8.85" fill="#ffcdd2"/>
<rect x="131.34" y="341.40" width="5.60" height="3.10" fill="#ffcdd2"/>
<rect x="137.73" y="341.40" width="5.60" height="0.50" fill="#ffcdd2"/>
<rect x="144.12" y="339.50" width="5.60" height="1.90" fill="#26a69a"/>
<rect x="150.51" y="339.50" width="5.60" height="1.90" fill="#26a69a"/>
<rect x="156.90" y="340.25" width="5.60" height="1.15" fill="#b2dfdb"/>
<rect x="163.30" y="341.40" width="5.60" height="1.35" fill="#ff5252"/>
<rect x="169.69" y="341.40" width="5.60" height="1.00" fill="#ffcdd2"/>
<rect x="176.08" y="341.40" width="5.60" height="4.10" fill="#ff5252"/>
<rect x="182.47" y="341.40" width="5.60" height="10.60" fill="#ff5252"/>
<rect x="188.86" y="341.40" width="5.60" height="14.60" fill="#ff5252"/>
<rect x="195.25" y="341.40" width="5.60" height="14.00" fill="#ffcdd2"/>
<rect x="201.64" y="341.40" width="5.60" height="9.60" fill="#ffcdd2"/>
<rect x="208.03" y="341.40" width="5.60" height="9.60" fill="#ffcdd2"/>
<rect x="214.42" y="341.40" width="5.60" height="10.60" fill="#ff5252"/>
<rect x="220.81" y="341.40" width="5.60" height="10.60" fill="#ff5252"/>
<rect x="227.21" y="341.40" width="5.60" height="11.50" fill="#ff5252"/>
<rect x="233.60" y="341.40" width="5.60" height="9.00" fill="#ffcdd2"/>
<rect x="239.99" y="341.40" width="5.60" height="6.50" fill="#ffcdd2"/>
<rect x="246.38" y="341.40" width="5.60" height="4.35" fill="#ffcdd2"/>
<rect x="252.77" y="341.40" width="5.60" height="4.60" fill="#ff5252"/>
<rect x="259.16" y="341.40" width="5.60" height="3.35" fill="#ffcdd2"/>
<rect x="265.55" y="339.10" width="5.60" height="2.30" fill="#26a69a"/>
<rect x="271.94" y="337.00" width="5.60" height="4.40" fill="#26a69a"/>
<rect x="278.33" y="331.00" width="5.60" height="10.40" fill="#26a69a"/>
<rect x="284.72" y="325.00" width="5.60" height="16.40" fill="#26a69a"/>
<rect x="291.12" y="322.25" width="5.60" height="19.15" fill="#26a69a"/>
<rect x="297.51" y="321.10" width="5.60" height="20.30" fill="#26a69a"/>
<rect x="303.90" y="320.00" width="5.60" height="21.40" fill="#26a69a"/>
<rect x="310.29" y="323.10" width="5.60" height="18.30" fill="#b2dfdb"/>
<rect x="316.68" y="327.50" width="5.60" height="13.90" fill="#b2dfdb"/>
<rect x="323.07" y="330.25" width="5.60" height="11.15" fill="#b2dfdb"/>
<rect x="329.46" y="334.00" width="5.60" height="7.40" fill="#b2dfdb"/>
<rect x="335.85" y="338.10" width="5.60" height="3.30" fill="#b2dfdb"/>
<rect x="342.24" y="341.40" width="5.60" height="1.70" fill="#ff5252"/>
<rect x="348.63" y="341.40" width="5.60" height="1.70" fill="#ff5252"/>
<rect x="355.03" y="341.40" width="5.60" height="4.60" fill="#ff5252"/>
<rect x="361.42" y="341.40" width="5.60" height="2.35" fill="#ffcdd2"/>
<rect x="367.81" y="341.40" width="5.60" height="3.35" fill="#ff5252"/>
<rect x="374.20" y="341.40" width="5.60" height="1.35" fill="#ffcdd2"/>
<rect x="380.59" y="341.40" width="5.60" height="0.85" fill="#ffcdd2"/>
<rect x="386.98" y="341.40" width="5.60" height="3.35" fill="#ff5252"/>
<rect x="393.37" y="341.40" width="5.60" height="3.85" fill="#ff5252"/>
<rect x="399.76" y="341.40" width="5.60" height="4.20" fill="#ff5252"/>
<rect x="406.15" y="341.40" width="5.60" height="5.50" fill="#ff5252"/>
<rect x="412.55" y="341.40" width="5.60" height="4.30" fill="#ffcdd2"/>
<rect x="418.94" y="341.40" width="5.60" height="3.20" fill="#ffcdd2"/>
<rect x="425.33" y="341.40" width="5.60" height="2.10" fill="#ffcdd2"/>
<rect x="431.72" y="341.40" width="5.60" height="1.10" fill="#ffcdd2"/>
<rect x="438.11" y="341.40" width="5.60" height="0.85" fill="#ffcdd2"/>
<rect x="444.50" y="341.40" width="5.60" height="1.50" fill="#ff5252"/>
<rect x="450.89" y="341.40" width="5.60" height="4.35" fill="#ff5252"/>
<rect x="457.28" y="341.40" width="5.60" height="9.35" fill="#ff5252"/>
<rect x="463.67" y="341.40" width="5.60" height="10.20" fill="#ff5252"/>
<rect x="470.06" y="341.40" width="5.60" height="8.60" fill="#ffcdd2"/>
<rect x="476.45" y="341.40" width="5.60" height="6.50" fill="#ffcdd2"/>
<rect x="482.85" y="341.40" width="5.60" height="3.10" fill="#ffcdd2"/>
<rect x="489.24" y="341.40" width="5.60" height="1.50" fill="#ffcdd2"/>
<rect x="495.63" y="341.40" width="5.60" height="0.60" fill="#ffcdd2"/>
<rect x="502.02" y="340.40" width="5.60" height="1.00" fill="#26a69a"/>
<rect x="508.41" y="341.40" width="5.60" height="1.10" fill="#ff5252"/>
<rect x="514.80" y="341.40" width="5.60" height="2.35" fill="#ff5252"/>
<rect x="527.58" y="340.00" width="5.60" height="1.40" fill="#26a69a"/>
<rect x="533.97" y="339.10" width="5.60" height="2.30" fill="#26a69a"/>
<rect x="540.37" y="340.75" width="5.60" height="0.65" fill="#b2dfdb"/>
<rect x="546.76" y="341.40" width="5.60" height="0.60" fill="#ff5252"/>
<rect x="553.15" y="341.40" width="5.60" height="1.50" fill="#ff5252"/>
<rect x="559.54" y="341.40" width="5.60" height="2.35" fill="#ff5252"/>
<rect x="565.93" y="341.40" width="5.60" height="4.35" fill="#ff5252"/>
<rect x="572.32" y="341.40" width="5.60" height="3.60" fill="#ffcdd2"/>
<rect x="578.71" y="341.40" width="5.60" height="2.35" fill="#ffcdd2"/>
<rect x="585.10" y="341.40" width="5.60" height="2.35" fill="#ffcdd2"/>
<rect x="591.49" y="341.40" width="5.60" height="0.85" fill="#ffcdd2"/>
<rect x="597.88" y="341.40" width="5.60" height="0.50" fill="#ffcdd2"/>
<rect x="604.28" y="341.40" width="5.60" height="0.60" fill="#ff5252"/>
<rect x="610.67" y="341.40" width="5.60" height="1.20" fill="#ff5252"/>
<rect x="617.06" y="341.40" width="5.60" height="3.35" fill="#ff5252"/>
<rect x="623.45" y="341.40" width="5.60" height="5.20" fill="#ff5252"/>
<rect x="629.84" y="341.40" width="5.60" height="4.60" fill="#ffcdd2"/>
<rect x="636.23" y="341.40" width="5.60" height="3.35" fill="#ffcdd2"/>
<rect x="642.62" y="341.40" width="5.60" height="2.35" fill="#ffcdd2"/>
<rect x="649.01" y="341.40" width="5.60" height="0.85" fill="#ffcdd2"/>
<rect x="655.40" y="341.40" width="5.60" height="0.70" fill="#ffcdd2"/>
<rect x="661.79" y="339.75" width="5.60" height="1.65" fill="#26a69a"/>
<rect x="668.19" y="338.90" width="5.60" height="2.50" fill="#26a69a"/>
<rect x="674.58" y="337.60" width="5.60" height="3.80" fill="#26a69a"/>
<rect x="680.97" y="336.00" width="5.60" height="5.40" fill="#26a69a"/>
<rect x="687.36" y="335.10" width="5.60" height="6.30" fill="#26a69a"/>
<rect x="693.75" y="334.50" width="5.60" height="6.90" fill="#26a69a"/>
<rect x="700.14" y="334.50" width="5.60" height="6.90" fill="#26a69a"/>
<rect x="706.53" y="334.75" width="5.60" height="6.65" fill="#b2dfdb"/>
<rect x="712.92" y="336.00" width="5.60" height="5.40" fill="#b2dfdb"/>
<rect x="719.31" y="336.00" width="5.60" height="5.40" fill="#b2dfdb"/>
<rect x="725.70" y="336.00" width="5.60" height="5.40" fill="#26a69a"/>
<rect x="732.10" y="334.75" width="5.60" height="6.65" fill="#26a69a"/>
<rect x="738.49" y="333.90" width="5.60" height="7.50" fill="#26a69a"/>
<rect x="744.88" y="332.25" width="5.60" height="9.15" fill="#26a69a"/>
<rect x="751.27" y="333.00" width="5.60" height="8.40" fill="#b2dfdb"/>
<rect x="757.66" y="334.75" width="5.60" height="6.65" fill="#b2dfdb"/>
<rect x="764.05" y="336.00" width="5.60" height="5.40" fill="#b2dfdb"/>
<rect x="770.44" y="338.25" width="5.60" height="3.15" fill="#b2dfdb"/>
<rect x="776.83" y="339.75" width="5.60" height="1.65" fill="#b2dfdb"/>
<rect x="783.22" y="340.60" width="5.60" height="0.80" fill="#b2dfdb"/>
<rect x="789.61" y="339.75" width="5.60" height="1.65" fill="#26a69a"/>
<rect x="796.00" y="338.10" width="5.60" height="3.30" fill="#26a69a"/>
<rect x="802.40" y="339.40" width="5.60" height="2.00" fill="#b2dfdb"/>
<rect x="808.79" y="339.40" width="5.60" height="2.00" fill="#b2dfdb"/>
<rect x="815.18" y="339.00" width="5.60" height="2.40" fill="#26a69a"/>
<rect x="821.57" y="340.00" width="5.60" height="1.40" fill="#b2dfdb"/>
<rect x="827.96" y="340.60" width="5.60" height="0.80" fill="#b2dfdb"/>
<rect x="834.35" y="341.40" width="5.60" height="2.35" fill="#ff5252"/>
<rect x="840.74" y="341.40" width="5.60" height="4.20" fill="#ff5252"/>
<rect x="847.13" y="341.40" width="5.60" height="3.85" fill="#ff5252"/>
<rect x="853.52" y="341.40" width="5.60" height="3.00" fill="#ffcdd2"/>
<rect x="859.92" y="341.40" width="5.60" height="1.35" fill="#ffcdd2"/>
<rect x="866.31" y="341.40" width="5.60" height="1.35" fill="#ffcdd2"/>
<rect x="872.70" y="339.75" width="5.60" height="1.65" fill="#26a69a"/>
<rect x="879.09" y="333.10" width="5.60" height="8.30" fill="#26a69a"/>
<rect x="885.48" y="327.25" width="5.60" height="14.15" fill="#26a69a"/>
<polyline points="7.50,318.00 18.75,312.75 37.50,307.10 50.00,304.25 57.50,304.00 65.00,305.50 75.00,310.90 87.50,321.50 95.40,328.00 106.00,335.50 118.50,342.75 126.00,345.50 136.00,346.75 148.50,346.50 161.00,346.10 172.25,347.40 176.00,347.80 183.50,349.75 192.25,354.75 201.00,359.10 213.50,364.10 226.00,369.10 238.50,373.25 251.00,375.75 263.50,377.50 273.50,376.25 283.50,372.90 293.50,366.00 296.00,363.10 303.50,356.90 312.25,350.00 321.00,345.60 329.75,343.10 338.50,342.25 346.00,342.75 358.50,344.40 371.00,345.60 383.50,346.25 396.00,348.10 408.50,350.00 416.00,351.25 428.50,352.90 447.25,353.50 456.00,355.75 466.00,359.75 476.00,362.90 486.00,364.10 496.00,364.50 503.50,364.10 513.50,365.40 523.50,365.75 533.50,364.75 536.00,364.75 548.50,365.40 561.00,366.25 573.50,368.25 586.00,369.10 598.50,369.75 611.00,370.00 623.50,371.60 636.00,373.75 648.50,375.40 656.00,375.75 668.50,374.50 681.00,372.60 693.50,369.50 706.00,366.75 718.50,364.50 731.00,362.00 743.50,359.25 756.00,355.10 766.00,353.00 776.00,352.40 788.50,352.25 807.25,350.60 826.00,349.75 838.50,350.60 851.00,352.50 863.50,353.50 871.00,354.00 878.50,352.75 887.90,348.10" fill="none" stroke="#ff8430" stroke-width="1" stroke-linejoin="round"/>
<polyline points="7.50,303.75 31.25,303.75 37.50,300.90 45.00,298.40 52.50,299.60 60.00,304.00 67.50,314.00 75.00,325.25 82.25,334.90 88.50,346.10 93.50,349.25 102.25,353.00 112.25,353.60 121.00,355.50 127.25,354.50 136.00,348.60 143.50,346.10 153.50,345.25 161.00,346.50 166.00,348.00 172.25,349.00 176.00,350.40 179.75,352.90 186.00,362.25 192.25,369.10 198.50,371.25 204.75,370.00 211.00,371.60 218.50,375.75 229.75,381.25 236.00,381.60 243.50,381.00 249.75,379.50 256.00,381.00 262.25,380.40 267.25,376.00 274.75,371.60 281.00,362.90 287.25,352.90 296.00,343.50 301.00,338.10 307.25,333.75 313.50,332.25 321.00,333.10 331.00,335.60 338.50,340.00 344.75,343.75 351.00,344.75 357.25,348.50 363.50,347.25 371.00,348.50 382.25,347.25 391.00,350.60 399.75,353.10 408.50,355.60 416.00,355.90 423.50,355.40 431.00,354.50 441.00,354.10 447.25,355.40 453.50,359.10 459.75,366.00 466.00,370.40 478.50,370.40 486.00,367.25 496.00,365.40 503.50,364.10 511.00,366.00 517.25,368.25 523.50,366.00 529.75,363.50 536.00,362.90 548.50,365.75 558.50,368.50 567.25,371.25 576.00,371.60 588.50,371.60 596.00,370.40 603.50,370.00 613.50,371.60 621.00,375.40 626.00,377.90 638.50,378.50 648.50,377.00 656.00,376.40 662.25,374.50 669.75,373.25 681.00,368.25 693.50,364.25 706.00,360.75 713.50,360.50 721.00,360.10 728.50,358.25 736.00,355.10 743.50,352.00 748.50,349.50 754.75,348.25 763.50,348.50 771.00,350.10 778.50,350.75 786.00,351.50 798.50,349.00 817.25,347.75 828.50,349.00 836.00,352.50 848.50,356.25 858.50,356.00 868.50,355.60 874.75,353.10 881.00,343.75 887.90,334.75" fill="none" stroke="#4f79fb" stroke-width="1" stroke-linejoin="round"/>
</g>
<g clip-path="url(#p3)">
<rect x="7.50" y="404.9" width="947.50" height="89.8" fill="rgba(126,87,194,0.1)"/>
<line x1="7.50" y1="404.90" x2="955.00" y2="404.90" stroke="#8d8d96" stroke-opacity="0.9" stroke-width="1" stroke-dasharray="3.7 4.2"/>
<line x1="7.50" y1="449.45" x2="955.00" y2="449.45" stroke="#8d8d96" stroke-opacity="0.6" stroke-width="1" stroke-dasharray="3.7 4.2"/>
<line x1="7.50" y1="494.65" x2="955.00" y2="494.65" stroke="#8d8d96" stroke-opacity="0.9" stroke-width="1" stroke-dasharray="3.7 4.2"/>
<polyline points="7.50,431.75 25.00,425.50 45.00,418.25 56.25,417.40 63.75,418.00 75.00,425.50 81.00,430.00 89.75,436.90 99.75,442.50 112.25,447.50 121.00,451.90 131.00,456.25 141.00,459.00 148.50,460.25 156.00,459.75 166.00,458.50 172.25,456.90 178.50,456.10 184.00,457.25 194.75,460.25 211.00,461.50 219.75,464.60 229.75,468.75 238.50,471.50 248.50,473.40 256.00,474.60 262.25,475.90 268.50,475.00 274.75,473.00 286.00,466.50 294.75,463.00 304.00,458.00 308.50,455.75 321.00,450.10 331.00,448.00 338.50,447.25 351.00,445.10 358.50,445.75 364.10,445.50 371.00,447.25 383.50,450.10 396.00,455.50 408.50,458.50 416.00,459.75 428.50,459.75 446.00,459.50 456.00,462.90 466.00,467.25 476.00,469.10 486.00,469.10 503.50,468.75 516.00,471.60 528.50,472.00 536.00,471.50 543.50,470.60 548.50,469.40 554.75,468.75 563.50,469.75 573.50,471.90 586.00,474.00 598.50,474.75 606.00,474.75 613.50,476.90 626.00,482.50 636.00,483.50 646.00,483.75 656.00,483.40 668.50,482.75 687.25,480.90 699.75,478.40 712.25,474.60 724.75,471.50 741.00,466.50 748.50,463.40 758.50,460.50 768.50,460.50 776.00,460.50 785.00,461.20 794.00,459.90 804.80,458.10 817.40,456.30 830.00,459.00 839.00,463.50 848.00,465.80 857.00,466.60 869.60,465.70 878.60,462.60 887.60,458.50" fill="none" stroke="#f8d865" stroke-width="1.1" stroke-linejoin="round"/>
<polyline points="6.32,413.00 12.71,418.00 19.10,422.75 25.49,421.00 31.89,419.50 38.28,407.40 44.67,404.90 51.06,420.50 57.45,433.60 63.84,449.00 70.23,466.25 76.62,475.60 83.01,470.25 89.40,486.25 95.80,465.60 102.19,461.25 108.58,455.60 114.97,459.00 121.36,463.10 127.75,453.10 134.14,439.40 140.53,445.25 146.92,446.50 153.31,450.60 159.70,455.00 166.10,464.00 172.49,456.50 178.88,467.20 185.27,486.50 191.66,489.00 198.05,475.25 204.44,462.10 210.83,471.50 217.22,477.10 223.62,479.00 230.01,482.75 236.40,475.50 242.79,472.75 249.18,470.25 255.57,479.00 261.96,474.00 268.35,454.00 274.74,457.50 281.13,437.75 287.52,427.10 293.92,430.50 300.31,426.45 306.70,425.10 313.09,438.90 319.48,447.00 325.87,448.90 332.26,452.60 338.65,462.60 345.04,467.25 351.44,455.10 357.83,466.60 364.22,449.50 370.61,457.60 377.00,450.50 383.39,452.00 389.78,463.25 396.17,464.50 402.56,463.25 408.95,468.00 415.35,461.40 421.74,461.00 428.13,457.25 434.52,460.75 440.91,459.50 447.30,466.60 453.69,482.90 460.08,497.00 466.47,483.50 472.86,472.50 479.25,472.25 485.65,457.25 492.04,464.50 498.43,463.25 504.82,466.00 511.21,476.60 517.60,480.75 523.99,462.00 530.38,457.25 536.77,462.70 543.16,474.25 549.56,474.40 555.95,479.75 562.34,480.60 568.73,487.50 575.12,480.00 581.51,477.50 587.90,480.25 594.29,471.90 600.68,476.25 607.08,482.50 613.47,486.90 619.86,496.25 626.25,504.00 632.64,483.10 639.03,486.50 645.42,479.75 651.81,479.75 658.20,483.75 664.59,473.40 670.99,477.50 677.38,465.25 683.77,464.00 690.16,468.00 696.55,463.75 702.94,462.50 709.33,466.50 715.72,475.00 722.11,470.90 728.50,461.50 734.89,448.40 741.29,451.50 747.68,436.50 754.07,449.00 760.46,459.00 766.85,463.75 773.24,470.90 779.63,467.10 786.02,471.60 792.41,452.70 798.80,450.40 805.20,460.40 811.59,457.60 817.98,454.00 824.37,462.25 830.76,468.40 837.15,486.50 843.54,480.25 849.93,481.00 856.32,468.00 862.72,462.10 869.11,469.40 875.50,444.60 881.89,411.80 888.28,403.70" fill="none" stroke="#9070cf" stroke-width="1" stroke-linejoin="round"/>
</g>
<rect x="7.50" y="287.2" width="1009.10" height="1.1" fill="#eeeeee"/>
<rect x="7.50" y="390.9" width="1009.10" height="1.1" fill="#eeeeee"/>
<g clip-path="url(#a1)">
<text x="961.60" y="68.10" font-size="8.80" fill="#262626" textLength="48.15" lengthAdjust="spacingAndGlyphs"  stroke="#262626" stroke-width="0.10">56.00000000</text>
<text x="961.60" y="90.66" font-size="8.80" fill="#262626" textLength="48.15" lengthAdjust="spacingAndGlyphs"  stroke="#262626" stroke-width="0.10">52.00000000</text>
<text x="961.60" y="113.22" font-size="8.80" fill="#262626" textLength="48.15" lengthAdjust="spacingAndGlyphs"  stroke="#262626" stroke-width="0.10">48.00000000</text>
<text x="961.60" y="135.78" font-size="8.80" fill="#262626" textLength="48.15" lengthAdjust="spacingAndGlyphs"  stroke="#262626" stroke-width="0.10">44.00000000</text>
<text x="961.60" y="158.34" font-size="8.80" fill="#262626" textLength="48.15" lengthAdjust="spacingAndGlyphs"  stroke="#262626" stroke-width="0.10">40.00000000</text>
<text x="961.60" y="180.90" font-size="8.80" fill="#262626" textLength="48.15" lengthAdjust="spacingAndGlyphs"  stroke="#262626" stroke-width="0.10">36.00000000</text>
<text x="961.60" y="226.02" font-size="8.80" fill="#262626" textLength="48.15" lengthAdjust="spacingAndGlyphs"  stroke="#262626" stroke-width="0.10">28.00000000</text>
</g>
<g clip-path="url(#a2)">
<text x="961.60" y="291.00" font-size="8.80" fill="#262626" textLength="43.15" lengthAdjust="spacingAndGlyphs"  stroke="#262626" stroke-width="0.10">4.00000000</text>
<text x="961.60" y="317.20" font-size="8.80" fill="#262626" textLength="43.15" lengthAdjust="spacingAndGlyphs"  stroke="#262626" stroke-width="0.10">2.00000000</text>
<text x="962.00" y="370.80" font-size="8.80" fill="#262626" textLength="47.75" lengthAdjust="spacingAndGlyphs"  stroke="#262626" stroke-width="0.10">−2.00000000</text>
</g>
<text x="961.60" y="430.10" font-size="8.80" fill="#262626" textLength="20.90" lengthAdjust="spacingAndGlyphs"  stroke="#262626" stroke-width="0.10">60.00</text>
<text x="961.60" y="452.30" font-size="8.80" fill="#262626" textLength="20.90" lengthAdjust="spacingAndGlyphs"  stroke="#262626" stroke-width="0.10">50.00</text>
<text x="961.60" y="474.70" font-size="8.80" fill="#262626" textLength="20.90" lengthAdjust="spacingAndGlyphs"  stroke="#262626" stroke-width="0.10">40.00</text>
<text x="961.60" y="497.40" font-size="8.80" fill="#262626" textLength="20.90" lengthAdjust="spacingAndGlyphs"  stroke="#262626" stroke-width="0.10">30.00</text>
<rect x="955.2" y="19.40" width="61.4" height="24.6" fill="#fff2d8"/>
<rect x="957.9" y="22.5" width="55.85" height="18.1" rx="3" fill="#ffffff"/>
<text x="964.50" y="35.10" font-size="8.60" fill="#262626" textLength="15.20" lengthAdjust="spacingAndGlyphs"  stroke="#262626" stroke-width="0.10">USD</text>
<rect x="932" y="40.6" width="22.75" height="11.65" fill="#e1ebf8"/>
<text x="935.00" y="49.40" font-size="8.80" fill="#262626" textLength="16.60" lengthAdjust="spacingAndGlyphs"  stroke="#262626" stroke-width="0.10">High</text>
<g clip-path="url(#a1)"><rect x="956" y="40.6" width="57.75" height="11.65" fill="#e1ebf8"/>
<text x="961.60" y="49.80" font-size="8.80" fill="#262626" textLength="48.15" lengthAdjust="spacingAndGlyphs"  stroke="#262626" stroke-width="0.10">59.39377360</text>
</g>
<rect x="933.5" y="259.5" width="21.25" height="11.5" fill="#e1ebf8"/>
<text x="936.60" y="268.25" font-size="8.80" fill="#262626" textLength="15.00" lengthAdjust="spacingAndGlyphs"  stroke="#262626" stroke-width="0.10">Low</text>
<rect x="956" y="259.5" width="57.75" height="11.5" fill="#e1ebf8"/>
<text x="961.60" y="268.25" font-size="8.80" fill="#262626" textLength="48.15" lengthAdjust="spacingAndGlyphs"  stroke="#262626" stroke-width="0.10">20.50499831</text>
<rect x="955.75" y="188.40" width="58.00" height="21.85" rx="1.0" fill="#089981"/>
<text x="961.60" y="198.00" font-size="8.80" fill="#ffffff" textLength="48.15" lengthAdjust="spacingAndGlyphs"  stroke="#ffffff" stroke-width="0.35">33.05549558</text>
<text x="961.60" y="208.00" font-size="8.80" fill="#d4efe9" textLength="33.15" lengthAdjust="spacingAndGlyphs"  stroke="#d4efe9" stroke-width="0.35">07:19:09</text>
<rect x="955.75" y="210.25" width="58.00" height="12.25" rx="1.0" fill="#22c1dc"/>
<text x="961.60" y="219.70" font-size="8.80" fill="#1f1f24" textLength="48.15" lengthAdjust="spacingAndGlyphs"  stroke="#1f1f24" stroke-width="0.10">32.91364675</text>
<rect x="955.75" y="223.75" width="58.00" height="12.00" rx="1.0" fill="#ff8000"/>
<text x="961.60" y="232.90" font-size="8.80" fill="#ffffff" textLength="48.15" lengthAdjust="spacingAndGlyphs"  stroke="#ffffff" stroke-width="0.35">26.75623536</text>
<rect x="955.75" y="236.00" width="58.00" height="12.25" rx="1.0" fill="#ff0000"/>
<text x="961.60" y="245.75" font-size="8.80" fill="#ffffff" textLength="48.15" lengthAdjust="spacingAndGlyphs"  stroke="#ffffff" stroke-width="0.35">25.38983623</text>
<rect x="955.75" y="321.90" width="53.75" height="12.10" rx="1.0" fill="#26a69a"/>
<text x="961.60" y="330.70" font-size="8.80" fill="#ffffff" textLength="43.15" lengthAdjust="spacingAndGlyphs"  stroke="#ffffff" stroke-width="0.35">1.02759442</text>
<rect x="955.75" y="334.00" width="53.75" height="12.00" rx="1.0" fill="#2962ff"/>
<text x="961.60" y="342.60" font-size="8.80" fill="#ffffff" textLength="43.15" lengthAdjust="spacingAndGlyphs"  stroke="#ffffff" stroke-width="0.35">0.45904256</text>
<rect x="955.75" y="346.00" width="58.00" height="12.25" rx="1.0" fill="#ff6d00"/>
<text x="962.20" y="354.70" font-size="8.80" fill="#ffffff" textLength="47.55" lengthAdjust="spacingAndGlyphs"  stroke="#ffffff" stroke-width="0.35">−0.56855186</text>
<rect x="955.75" y="398.00" width="30.85" height="12.10" rx="1.0" fill="#7e57c2"/>
<text x="961.60" y="407.00" font-size="8.80" fill="#ffffff" textLength="20.90" lengthAdjust="spacingAndGlyphs"  stroke="#ffffff" stroke-width="0.35">70.19</text>
<rect x="955.75" y="452.10" width="30.85" height="11.90" rx="1.0" fill="#fdd835"/>
<text x="961.60" y="460.90" font-size="8.80" fill="#1f1f24" textLength="20.90" lengthAdjust="spacingAndGlyphs"  stroke="#1f1f24" stroke-width="0.10">46.11</text>
<text x="121.00" y="527.90" font-size="9.20" fill="#262626" textLength="13.75" lengthAdjust="spacingAndGlyphs"  stroke="#262626" stroke-width="0.10">Oct</text>
<text x="318.50" y="527.90" font-size="9.20" fill="#262626" textLength="14.50" lengthAdjust="spacingAndGlyphs"  stroke="#262626" stroke-width="0.10">Nov</text>
<text x="510.50" y="527.90" font-size="9.20" fill="#262626" textLength="14.00" lengthAdjust="spacingAndGlyphs"  stroke="#262626" stroke-width="0.10">Dec</text>
<text x="705.75" y="527.90" font-size="9.20" fill="#262626" textLength="19.75" lengthAdjust="spacingAndGlyphs" font-weight="bold"  stroke="#262626" stroke-width="0.10">2026</text>
<text x="906.25" y="527.90" font-size="9.20" fill="#262626" textLength="14.15" lengthAdjust="spacingAndGlyphs"  stroke="#262626" stroke-width="0.10">Feb</text>
<text x="7.50" y="13.90" font-size="9.30" fill="#262626" textLength="297.75" lengthAdjust="spacingAndGlyphs"  stroke="#262626" stroke-width="0.10">Yash_Jain_1309 created with TradingView.com, Jan 28, 2026 22:10 UTC+5:30</text>
<text x="13.00" y="33.25" font-size="8.80" fill="#262626" textLength="78.25" lengthAdjust="spacingAndGlyphs"  stroke="#262626" stroke-width="0.10">HYPEUSD · 1D · Pyth</text>
<text x="97.00" y="33.25" font-size="8.80" fill="#262626" textLength="5.50" lengthAdjust="spacingAndGlyphs"  stroke="#262626" stroke-width="0.10">O</text>
<text x="103.25" y="33.25" font-size="8.80" fill="#089981" textLength="47.50" lengthAdjust="spacingAndGlyphs"  stroke="#089981" stroke-width="0.10">30.80369003</text>
<text x="157.00" y="33.25" font-size="8.80" fill="#262626" textLength="5.20" lengthAdjust="spacingAndGlyphs"  stroke="#262626" stroke-width="0.10">H</text>
<text x="163.00" y="33.25" font-size="8.80" fill="#089981" textLength="47.00" lengthAdjust="spacingAndGlyphs"  stroke="#089981" stroke-width="0.10">34.80044265</text>
<text x="216.50" y="33.25" font-size="8.80" fill="#262626" textLength="4.00" lengthAdjust="spacingAndGlyphs"  stroke="#262626" stroke-width="0.10">L</text>
<text x="221.50" y="33.25" font-size="8.80" fill="#089981" textLength="46.50" lengthAdjust="spacingAndGlyphs"  stroke="#089981" stroke-width="0.10">30.75478581</text>
<text x="274.00" y="33.25" font-size="8.80" fill="#262626" textLength="5.00" lengthAdjust="spacingAndGlyphs"  stroke="#262626" stroke-width="0.10">C</text>
<text x="279.75" y="33.25" font-size="8.80" fill="#089981" textLength="47.50" lengthAdjust="spacingAndGlyphs"  stroke="#089981" stroke-width="0.10">33.05549558</text>
<text x="333.00" y="33.25" font-size="8.80" fill="#089981" textLength="48.00" lengthAdjust="spacingAndGlyphs"  stroke="#089981" stroke-width="0.10">+2.25394110</text>
<text x="384.25" y="33.25" font-size="8.80" fill="#089981" textLength="31.75" lengthAdjust="spacingAndGlyphs"  stroke="#089981" stroke-width="0.10">(+7.32%)</text>
<text x="13.00" y="45.50" font-size="8.80" fill="#262626" textLength="77.00" lengthAdjust="spacingAndGlyphs"  stroke="#262626" stroke-width="0.10">EMA 20/50/100/200</text>
<text x="96.25" y="45.50" font-size="8.80" fill="#ff2d2d" textLength="47.50" lengthAdjust="spacingAndGlyphs"  stroke="#ff2d2d" stroke-width="0.10">25.38983623</text>
<text x="150.00" y="45.50" font-size="8.80" fill="#ff9326" textLength="47.50" lengthAdjust="spacingAndGlyphs"  stroke="#ff9326" stroke-width="0.10">26.75623536</text>
<text x="203.00" y="45.50" font-size="8.80" fill="#27b6d4" textLength="47.75" lengthAdjust="spacingAndGlyphs"  stroke="#27b6d4" stroke-width="0.10">32.91364675</text>
<text x="13.00" y="57.50" font-size="8.80" fill="#262626" textLength="42.50" lengthAdjust="spacingAndGlyphs"  stroke="#262626" stroke-width="0.10">Watermark</text>
<text x="13.10" y="301.50" font-size="8.80" fill="#262626" textLength="79.40" lengthAdjust="spacingAndGlyphs"  stroke="#262626" stroke-width="0.10">MACD (12, 26, close)</text>
<text x="98.80" y="301.50" font-size="8.80" fill="#26a69a" textLength="42.70" lengthAdjust="spacingAndGlyphs"  stroke="#26a69a" stroke-width="0.10">1.02759442</text>
<text x="147.50" y="301.50" font-size="8.80" fill="#2962ff" textLength="43.00" lengthAdjust="spacingAndGlyphs"  stroke="#2962ff" stroke-width="0.10">0.45904256</text>
<text x="196.50" y="301.50" font-size="8.80" fill="#ff6d00" textLength="48.50" lengthAdjust="spacingAndGlyphs"  stroke="#ff6d00" stroke-width="0.10">−0.56855186</text>
<text x="13.10" y="405.25" font-size="8.80" fill="#262626" textLength="54.40" lengthAdjust="spacingAndGlyphs"  stroke="#262626" stroke-width="0.10">RSI (14, close)</text>
<text x="73.75" y="405.25" font-size="8.80" fill="#7e57c2" textLength="20.00" lengthAdjust="spacingAndGlyphs"  stroke="#7e57c2" stroke-width="0.10">70.19</text>
<text x="100.00" y="405.25" font-size="8.80" fill="#f5cf3a" textLength="20.60" lengthAdjust="spacingAndGlyphs"  stroke="#f5cf3a" stroke-width="0.10">46.11</text>
<g transform="translate(8.5,548.35) scale(0.6)" fill="#131313"><path d="M14 22H7V11H0V4h14v18z"/><circle cx="20" cy="8" r="4"/><path d="M28 22h-8l7.5-18h8L28 22z"/></g>
<text x="35.60" y="561.00" font-size="14.00" fill="#131313" textLength="86.30" lengthAdjust="spacingAndGlyphs"  stroke="#131313" stroke-width="0.75">TradingView</text>
</svg>
</body></html>
